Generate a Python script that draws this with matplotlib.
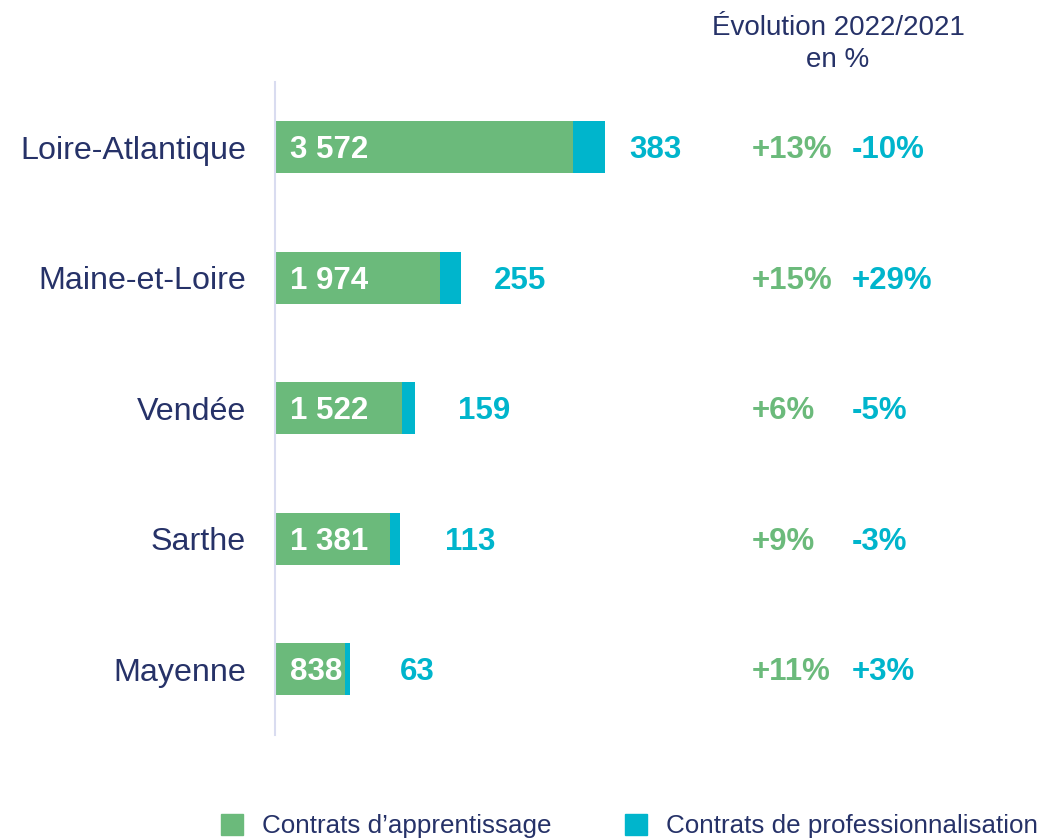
import matplotlib.pyplot as plt
import numpy as np
from matplotlib.patches import Patch

plt.rcParams['font.family'] = ['Liberation Sans', 'DejaVu Sans']

# data
departements = ["Loire-Atlantique", "Maine-et-Loire", "Vendée", "Sarthe", "Mayenne"]
apprentissage = [3572, 1974, 1522, 1381, 838]
professionnalisation = [383, 255, 159, 113, 63]
evol_apprentissage = ["+13%", "+15%", "+6%", "+9%", "+11%"]
evol_professionnalisation = ["-10%", "+29%", "-5%", "-3%", "+3%"]

GREEN = "#6BBA7B"
CYAN = "#00B5CC"
NAVY = "#263268"
AXIS = "#D9DCF0"

W, H = 1046, 839
fig = plt.figure(figsize=(W / 100, H / 100), dpi=100)
ax = fig.add_axes([275 / W, 1 - 734.5 / H, (W - 275) / W, 652.5 / H])

y = np.arange(len(departements))
app = np.array(apprentissage)
pro = np.array(professionnalisation)

ax.barh(y, app, height=0.4, color=GREEN)
ax.barh(y, pro, left=app, height=0.4, color=CYAN)

ax.set_xlim(0, 771 * 3955 / 330)
ax.set_ylim(len(departements) - 0.5, -0.5)

for s in ["top", "right", "bottom"]:
    ax.spines[s].set_visible(False)
ax.spines["left"].set_color(AXIS)
ax.spines["left"].set_linewidth(1.5)
ax.set_xticks([])
ax.set_yticks(y)
ax.set_yticklabels(departements, fontsize=23.2, color=NAVY)
ax.tick_params(axis="y", length=0, pad=21)

# gap (pixels) between bar end and the professionalisation label
gaps = [24, 33, 43, 45, 50]
fmt = lambda v: f"{v:,}".replace(",", " ")
bold = dict(fontsize=22.5, fontweight="bold", va="center", ha="left", textcoords="offset pixels")
tr = ax.get_yaxis_transform()
for i in range(len(departements)):
    ax.annotate(fmt(apprentissage[i]), (0, y[i]), xytext=(15, -3), color="white", **bold)
    ax.annotate(fmt(professionnalisation[i]), (app[i] + pro[i], y[i]), xytext=(gaps[i], -3),
                color=CYAN, **bold)
    ax.annotate(evol_apprentissage[i], ((752 - 275) / (W - 275), y[i]), xycoords=tr,
                xytext=(0, -3), color=GREEN, **bold)
    ax.annotate(evol_professionnalisation[i], ((852 - 275) / (W - 275), y[i]), xycoords=tr,
                xytext=(0, -3), color=CYAN, **bold)

fig.text(838 / W, 1 - 28 / H, "Évolution 2022/2021", fontsize=20, color=NAVY, ha="center", va="center")
fig.text(838 / W, 1 - 60 / H, "en %", fontsize=20, color=NAVY, ha="center", va="center")

handles = [Patch(color=GREEN, label="Contrats d’apprentissage"),
           Patch(color=CYAN, label="Contrats de professionnalisation")]
fig.legend(handles=handles, loc="center left", bbox_to_anchor=(221 / W, 1 - 826 / H), ncol=2,
           frameon=False, fontsize=18.7, labelcolor=NAVY, handlelength=0.85, handleheight=0.85,
           handletextpad=0.72, columnspacing=2.85, borderpad=0, borderaxespad=0)

fig.savefig("out.png", dpi=100)
